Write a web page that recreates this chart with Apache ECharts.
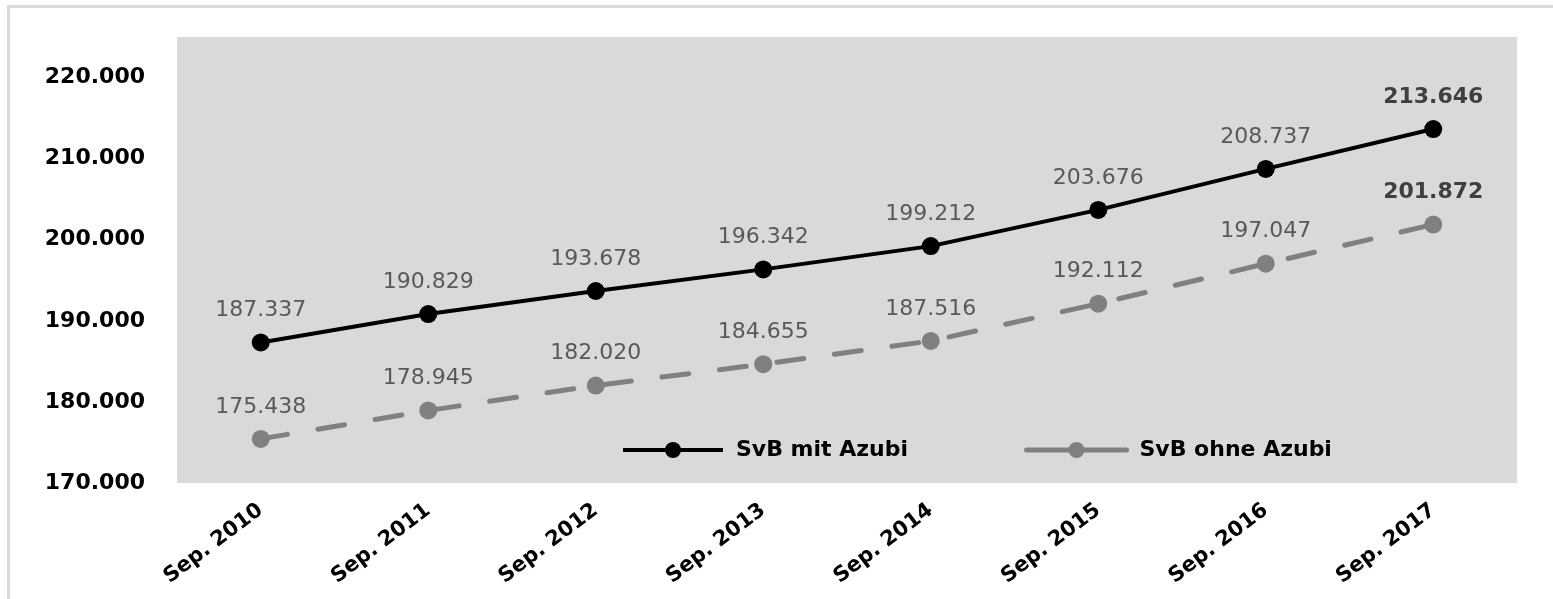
<!DOCTYPE html>
<html>
<head>
<meta charset="utf-8">
<script src="https://cdn.jsdelivr.net/npm/echarts@6/dist/echarts.min.js"></script>
<style>
    html, body { margin: 0; padding: 0; overflow: hidden; background: #fff; }
    #frame {
        position: absolute; left: 7px; top: 5px; width: 1700px; height: 800px;
        border-top: 3px solid #dadada; border-left: 3px solid #dadada;
    }
    #chart { position: absolute; left: 0; top: 0; width: 1553px; height: 599px; }
</style>
</head>
<body>
<div id="frame"></div>
<div id="chart"></div>
<script>
    // Stichtage
    var categories = ['Sep. 2010', 'Sep. 2011', 'Sep. 2012', 'Sep. 2013',
        'Sep. 2014', 'Sep. 2015', 'Sep. 2016', 'Sep. 2017'];
    var svbMitAzubi = [187337, 190829, 193678, 196342, 199212, 203676, 208737, 213646];
    var svbOhneAzubi = [175438, 178945, 182020, 184655, 187516, 192112, 197047, 201872];
    var seriesNames = ['SvB mit Azubi', 'SvB ohne Azubi'];

    var font = 'DejaVu Sans';

    // 187337 -> "187.337"
    function fmt(v) {
        var s = String(Math.round(v));
        return s.replace(/\B(?=(\d{3})+(?!\d))/g, '.');
    }

    // letzter Punkt fett beschriftet
    function withBoldLast(arr) {
        return arr.map(function (v, i) {
            if (i === arr.length - 1) {
                return { value: v, label: { fontWeight: 'bold', color: '#3f3f3f' } };
            }
            return v;
        });
    }

    function legendAt(left, name, lineStyle, color) {
        return {
            left: left, top: 434,
            itemWidth: 100, itemHeight: 20,
            textStyle: { fontFamily: font, fontWeight: 'bold', fontSize: 22, color: '#000', padding: [0, 0, 0, 8] },
            data: [{ name: name, lineStyle: lineStyle, itemStyle: { color: color } }]
        };
    }

    var chart = echarts.init(document.getElementById('chart'));
    chart.setOption({
        backgroundColor: 'transparent',
        animation: false,
        textStyle: { fontFamily: font },
        grid: {
            left: 177, right: 36, top: 37, bottom: 116,
            show: true, backgroundColor: '#d9d9d9', borderWidth: 0
        },
        legend: [
            legendAt(616, seriesNames[0], { color: '#000', width: 4 }, '#000'),
            legendAt(1019, seriesNames[1], { color: '#808080', width: 5, type: 'solid', cap: 'round' }, '#808080')
        ],
        xAxis: {
            type: 'category',
            data: categories,
            boundaryGap: true,
            axisLine: { show: false },
            axisTick: { show: false },
            axisLabel: {
                rotate: 37, margin: 25, interval: 0,
                fontFamily: font, fontWeight: 'bold', fontSize: 21, color: '#000'
            }
        },
        yAxis: {
            type: 'value',
            min: 170000, max: 225000, interval: 10000,
            splitLine: { show: false },
            axisLine: { show: false },
            axisTick: { show: false },
            axisLabel: {
                showMaxLabel: false, margin: 32,
                fontFamily: font, fontWeight: 'bold', fontSize: 22, color: '#000',
                formatter: fmt
            }
        },
        series: [{
            name: seriesNames[0],
            type: 'line',
            data: withBoldLast(svbMitAzubi),
            symbol: 'circle', symbolSize: 18,
            itemStyle: { color: '#000' },
            lineStyle: { color: '#000', width: 4 },
            label: {
                show: true, position: 'top', distance: 12,
                fontFamily: font, fontSize: 22, color: '#595959',
                formatter: function (p) { return fmt(p.value); }
            }
        }, {
            name: seriesNames[1],
            type: 'line',
            data: withBoldLast(svbOhneAzubi),
            symbol: 'circle', symbolSize: 18,
            itemStyle: { color: '#808080' },
            lineStyle: { color: '#808080', width: 5, type: [27, 31], cap: 'round' },
            label: {
                show: true, position: 'top', distance: 12,
                fontFamily: font, fontSize: 22, color: '#595959',
                formatter: function (p) { return fmt(p.value); }
            }
        }]
    });
</script>
</body>
</html>
